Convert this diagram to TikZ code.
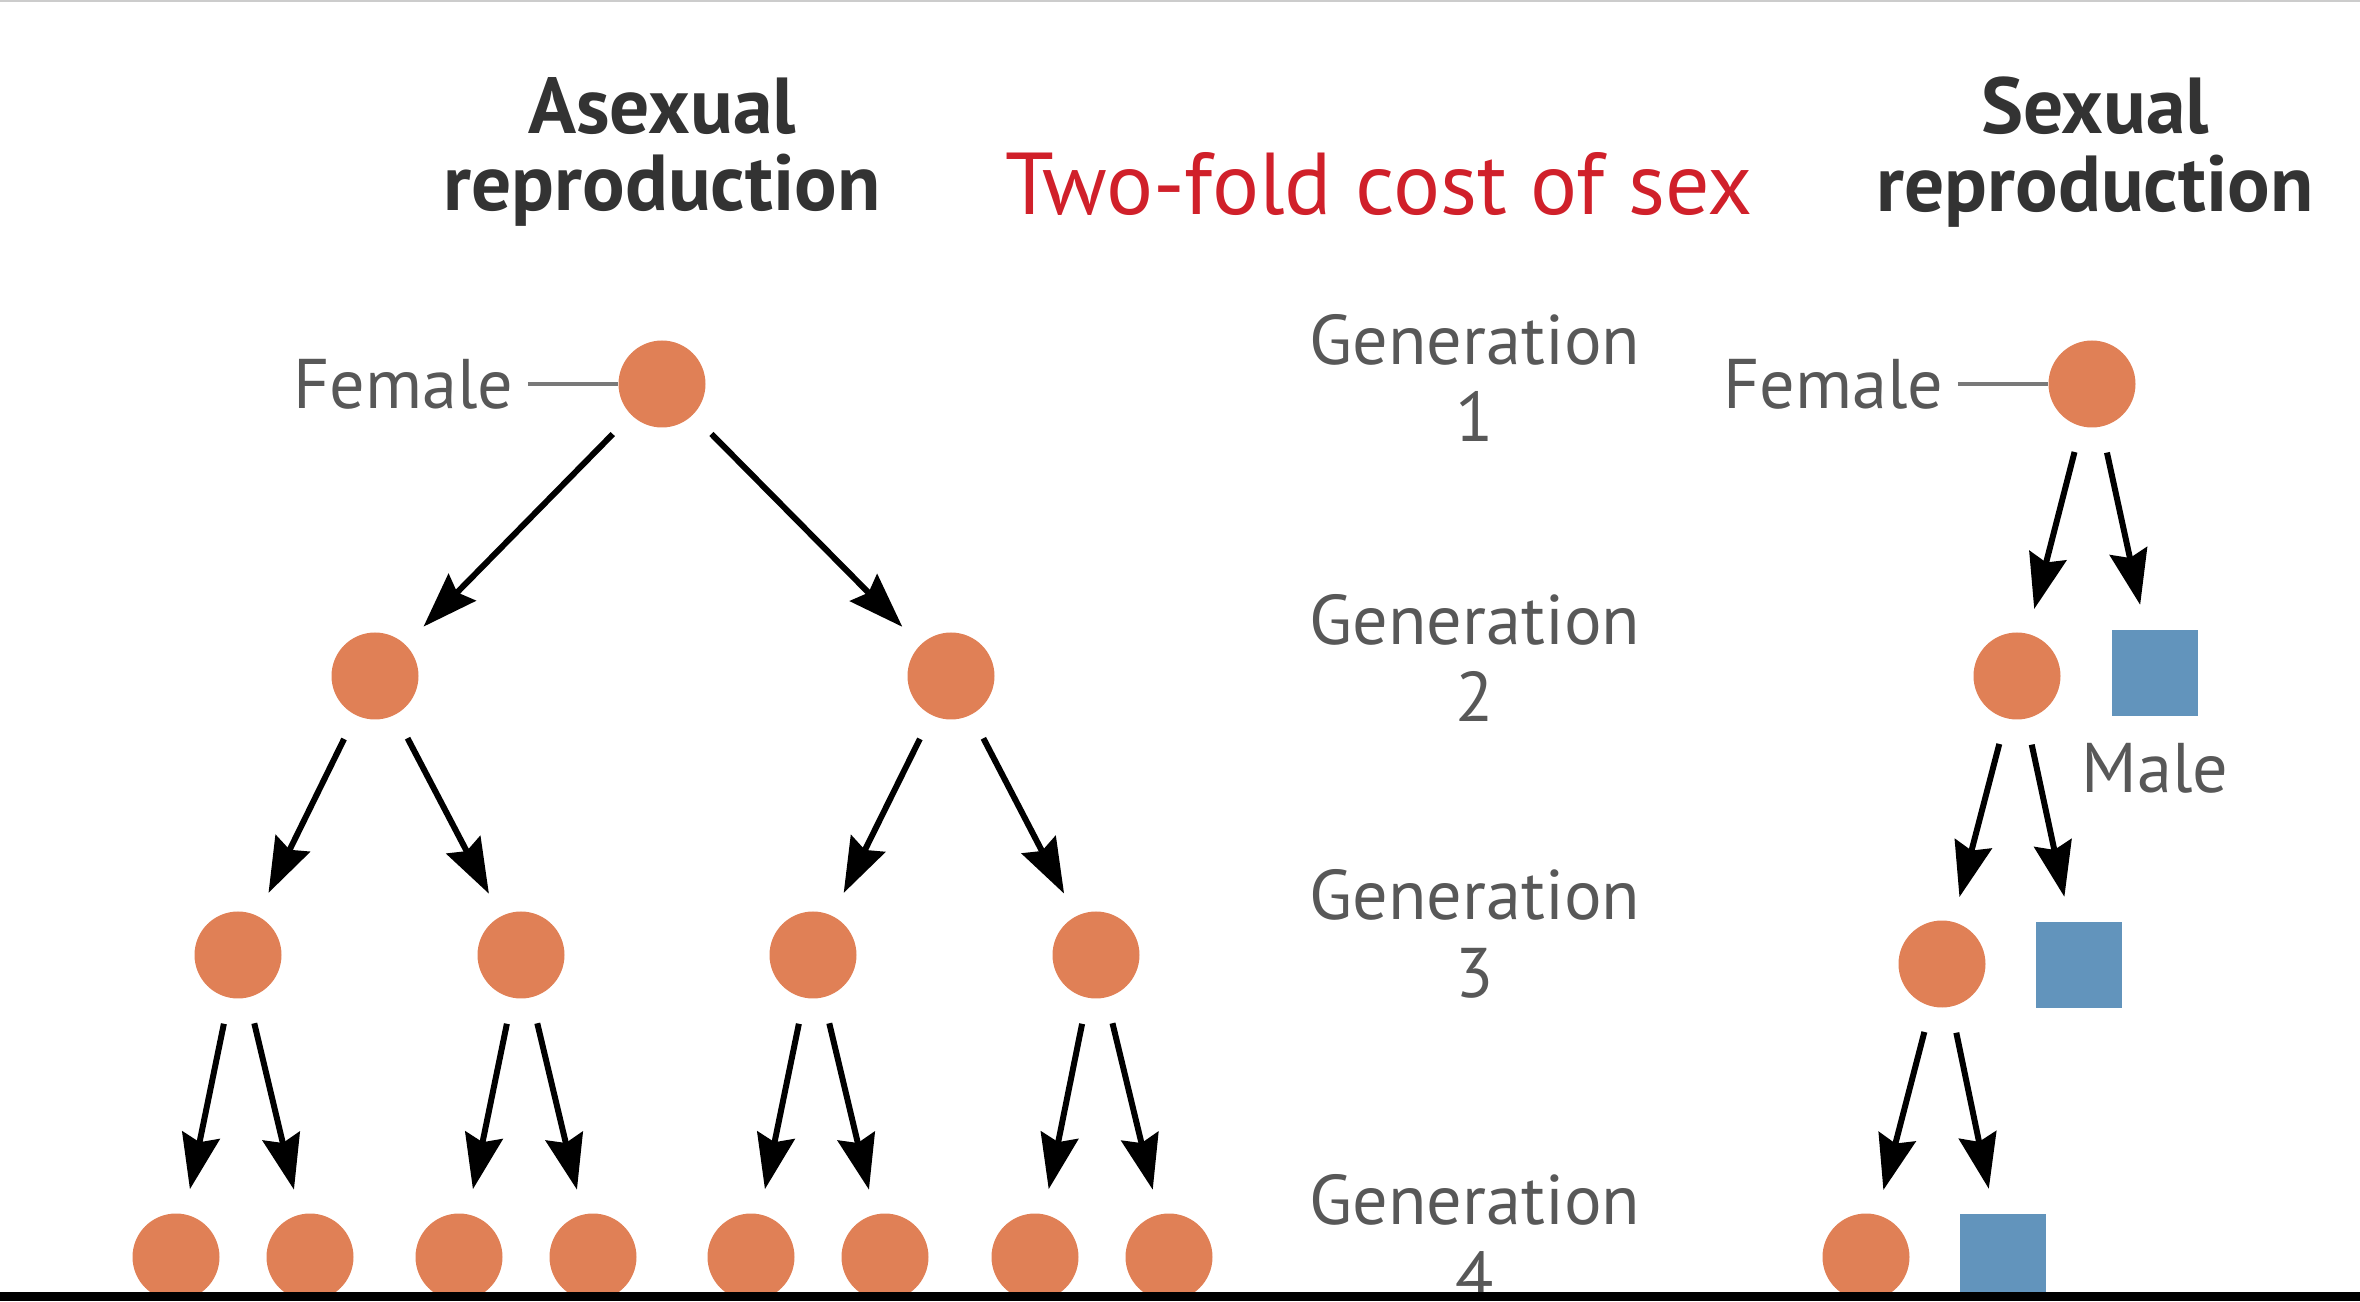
\documentclass[tikz,border=0pt]{standalone}
\usepackage{fontspec}
\setmainfont{PT Sans}
\usetikzlibrary{arrows.meta,positioning}
\definecolor{femcol}{RGB}{224,128,86}
\definecolor{malcol}{RGB}{98,148,188}
\definecolor{txtgray}{RGB}{88,88,88}
\definecolor{titlered}{RGB}{208,32,42}

\begin{document}
\begin{tikzpicture}[
  fem/.style={circle, fill=femcol, inner sep=0pt, minimum size=0.87cm},
  mal/.style={rectangle, fill=malcol, inner sep=0pt, minimum size=0.86cm},
  lbl/.style={text=txtgray, font=\fontsize{20}{22}\selectfont, inner sep=1pt},
  gen/.style={lbl, align=center},
  head/.style={text=black!80, font=\fontsize{22.6}{22}\selectfont\bfseries, align=center},
  arr/.style={-{Stealth[length=0.55cm,width=0.38cm,inset=0.07cm]}, line width=1.7pt, shorten <=0.26cm, shorten >=0.25cm}
]
\useasboundingbox (0,0) rectangle (23.6,13.01);
\fill[gray!40] (0,12.99) rectangle (23.6,13.01);

% titles
\node[head] (tA) at (6.62,11.49) {Asexual\\reproduction};
\node[head] (tS) at (20.95,11.49) {Sexual\\reproduction};
\node[text=titlered, font=\fontsize{25}{26}\selectfont] (tC) at (13.79,11.17) {Two-fold cost of sex};

% generations
\node[gen] (g1) at (14.75,9.23) {Generation\\1};
\node[gen] (g2) at (14.75,6.43) {Generation\\2};
\node[gen] (g3) at (14.75,3.67) {Generation\\3};
\node[gen] (g4) at (14.75,0.63) {Generation\\4};

% asexual tree
\node[fem] (rA) at (6.62,9.17) {};
\node[fem] (a1) at (3.75,6.25) {};
\node[fem] (a2) at (9.51,6.25) {};
\node[fem] (a11) at (2.38,3.46) {};
\node[fem] (a12) at (5.21,3.46) {};
\node[fem] (a21) at (8.13,3.46) {};
\node[fem] (a22) at (10.96,3.46) {};
\foreach \p/\n/\x in {a11/a111/1.76, a11/a112/3.10, a12/a121/4.59, a12/a122/5.93,
                      a21/a211/7.51, a21/a212/8.85, a22/a221/10.35, a22/a222/11.69}{
  \node[fem] (\n) at (\x,0.44) {};
  \path[arr] (\p) edge (\n);
}
\path[arr]
(rA) edge (a1)
     edge (a2)
(a1) edge (a11)
     edge (a12)
(a2) edge (a21)
     edge (a22);
\node[lbl, left=1.0cm of rA] (fA) {Female};
\draw[txtgray!80, line width=0.9pt, shorten <=0.1cm] (fA) -- (rA);

% sexual tree
\node[fem] (rS) at (20.92,9.17) {};
\node[fem] (s2f) at (20.17,6.25) {};
\node[mal] (s2m) at (21.55,6.28) {};
\node[fem] (s3f) at (19.42,3.37) {};
\node[mal] (s3m) at (20.79,3.36) {};
\node[fem] (s4f) at (18.66,0.44) {};
\node[mal] (s4m) at (20.03,0.44) {};
\path[arr]
(rS) edge (s2f)
     edge (s2m)
(s2f) edge (s3f)
      edge (s3m)
(s3f) edge (s4f)
      edge (s4m);
\node[lbl, left=1.0cm of rS] (fS) {Female};
\draw[txtgray!80, line width=0.9pt, shorten <=0.1cm] (fS) -- (rS);
\node[lbl, below=0.22cm of s2m] (mS) {Male};

\fill[black] (0,0) rectangle (23.6,0.09);
\end{tikzpicture}
\end{document}
